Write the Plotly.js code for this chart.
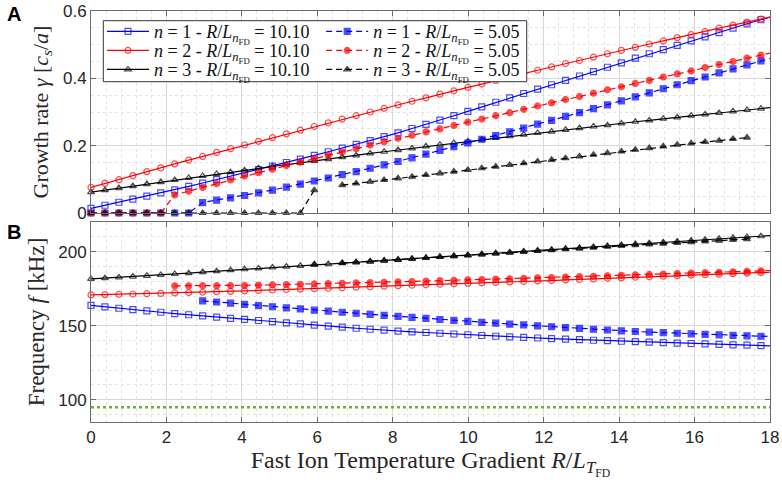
<!DOCTYPE html>
<html>
<head>
<meta charset="utf-8">
<script src="https://cdn.plot.ly/plotly-3.0.1.min.js"></script>
<style>html,body{margin:0;padding:0;background:#fff}#chart{width:782px;height:480px}</style>
</head>
<body>
<div id="chart"></div>
<script>
// fast ion temperature gradient R/L_T (marker positions, last point = end of line)
const rltf = [0, 0.37, 0.74, 1.11, 1.48, 1.85, 2.22, 2.59, 2.96, 3.33, 3.70, 4.07, 4.44, 4.81, 5.18,
  5.55, 5.92, 6.29, 6.66, 7.03, 7.40, 7.77, 8.14, 8.51, 8.88, 9.25, 9.62, 9.99, 10.36, 10.73, 11.10,
  11.47, 11.84, 12.21, 12.58, 12.95, 13.32, 13.69, 14.06, 14.43, 14.80, 15.17, 15.54, 15.91, 16.28,
  16.65, 17.02, 17.39, 17.76, 18];

// growth rate, R/L_n = 10.10
const gammaN1Ref = [0.014,0.023,0.032,0.041,0.050,0.060,0.069,0.079,0.089,0.099,0.109,0.119,0.129,0.139,0.150,
  0.160,0.171,0.182,0.193,0.204,0.215,0.227,0.238,0.251,0.263,0.276,0.289,0.302,0.315,0.329,0.342,
  0.355,0.368,0.381,0.394,0.407,0.420,0.433,0.446,0.460,0.473,0.485,0.498,0.511,0.523,0.536,0.549,
  0.562,0.574,0.582];
const gammaN2Ref = [0.076,0.088,0.099,0.111,0.123,0.134,0.146,0.157,0.168,0.180,0.191,0.202,0.213,0.224,0.235,
  0.246,0.257,0.268,0.279,0.289,0.300,0.311,0.321,0.332,0.342,0.353,0.363,0.373,0.383,0.394,0.404,
  0.414,0.424,0.434,0.444,0.453,0.463,0.473,0.483,0.492,0.502,0.511,0.521,0.530,0.539,0.549,0.558,
  0.567,0.576,0.582];
const gammaN3Ref = [0.062,0.068,0.074,0.080,0.086,0.092,0.098,0.104,0.110,0.116,0.121,0.127,0.133,0.138,0.144,
  0.149,0.155,0.160,0.166,0.171,0.177,0.182,0.187,0.192,0.198,0.203,0.208,0.213,0.218,0.223,0.228,
  0.233,0.238,0.242,0.247,0.252,0.257,0.261,0.266,0.271,0.275,0.280,0.284,0.289,0.293,0.297,0.302,
  0.306,0.310,0.313];

// growth rate, R/L_n = 5.05
const gammaN1Half = [0,0,0,0,0,0,0,0,0.031,0.038,0.045,0.052,0.060,0.068,0.077,
  0.086,0.095,0.104,0.114,0.123,0.133,0.143,0.153,0.164,0.175,0.186,0.197,0.208,0.219,0.230,0.241,
  0.252,0.264,0.275,0.287,0.298,0.310,0.321,0.333,0.345,0.357,0.369,0.381,0.393,0.404,0.416,0.428,
  0.440,0.452,0.459];
const gammaN2Half = [0,0,0,0,0,0,0.054,0.065,0.076,0.087,0.098,0.110,0.120,0.130,0.141,
  0.151,0.161,0.171,0.181,0.191,0.202,0.212,0.222,0.231,0.241,0.250,0.260,0.270,0.279,0.289,0.298,
  0.308,0.318,0.327,0.337,0.346,0.356,0.366,0.375,0.385,0.394,0.404,0.413,0.422,0.432,0.441,0.450,
  0.460,0.469,0.475];
const gammaN3Half = [0,0,0,0,0,0,0,0,0,0,0,0,0,0,0,
  0,0.068,null,0.083,0.088,0.093,0.098,0.103,0.108,0.113,0.118,0.123,0.128,0.133,0.138,0.143,
  0.148,0.153,0.158,0.163,0.168,0.173,0.178,0.183,0.188,0.193,0.198,0.203,0.207,0.211,0.215,0.220,
  0.224,null,null];

// frequency [kHz], R/L_n = 10.10
const freqN1Ref = [163.7,162.7,161.8,160.9,160.0,159.1,158.2,157.4,156.6,155.8,155.0,154.3,153.5,152.7,151.9,
  151.2,150.4,149.7,149.0,148.3,147.6,147.0,146.4,145.9,145.4,144.9,144.4,143.9,143.4,142.9,142.5,
  142.1,141.7,141.3,140.9,140.6,140.2,139.9,139.5,139.2,138.9,138.6,138.3,138.0,137.7,137.4,137.1,
  136.9,136.6,136.4];
const freqN2Ref = [170.8,171.0,171.2,171.4,171.6,171.8,172.1,172.4,172.6,172.9,173.2,173.5,173.8,174.1,174.4,
  174.7,175.0,175.3,175.6,176.0,176.3,176.7,177.0,177.3,177.6,178.0,178.3,178.6,178.9,179.2,179.6,
  179.9,180.2,180.5,180.9,181.2,181.6,182.0,182.3,182.7,183.0,183.4,183.7,184.1,184.4,184.8,185.1,
  185.5,185.8,186.1];
const freqN3Ref = [181.6,182.1,182.6,183.2,183.7,184.3,184.9,185.5,186.2,186.8,187.5,188.1,188.7,189.3,189.9,
  190.4,191.0,191.6,192.2,192.7,193.3,193.9,194.5,195.1,195.7,196.4,197.0,197.6,198.2,198.9,199.5,
  200.1,200.7,201.3,202.0,202.6,203.2,203.8,204.5,205.1,205.7,206.3,206.9,207.5,208.1,208.7,209.3,
  209.9,210.4,210.8];

// frequency [kHz], R/L_n = 5.05 (null where the mode is stable)
const freqN1Half = [null,null,null,null,null,null,null,null,166.8,166.0,165.2,164.4,163.6,162.8,162.0,
  161.3,160.5,159.8,159.1,158.4,157.7,157.0,156.3,155.6,154.9,154.2,153.6,152.9,152.3,151.7,151.1,
  150.5,149.9,149.3,148.7,148.2,147.6,147.1,146.5,146.1,145.7,145.3,144.9,144.5,144.2,143.8,143.5,
  143.2,142.9,142.7];
const freqN2Half = [null,null,null,null,null,null,176.9,176.9,177.0,177.0,177.1,177.2,177.4,177.6,177.8,
  178.0,178.2,178.4,178.6,178.9,179.1,179.3,179.6,179.8,180.1,180.4,180.7,181.0,181.2,181.5,181.7,
  182.0,182.3,182.5,182.8,183.1,183.4,183.7,184.0,184.3,184.6,184.9,185.2,185.5,185.8,186.1,186.4,
  186.7,187.0,187.2];
const freqN3Half = [null,null,null,null,null,null,null,null,null,null,null,null,null,null,null,
  null,191.5,null,192.4,192.9,193.4,194.0,194.6,195.2,195.8,196.4,197.0,197.5,198.1,198.7,199.3,
  199.9,200.5,201.0,201.6,202.1,202.7,203.3,203.9,204.4,204.9,205.4,205.9,206.4,206.9,207.4,207.9,
  208.4,null,null];

// reference frequency line
const refLineX = [0, 18];
const refLineF = [95, 95];

const legendNames = [
  '<i>n</i> = 1 - <i>R</i>/<i>L</i><sub><i>n</i><sub>FD</sub></sub> = 10.10',
  '<i>n</i> = 2 - <i>R</i>/<i>L</i><sub><i>n</i><sub>FD</sub></sub> = 10.10',
  '<i>n</i> = 3 - <i>R</i>/<i>L</i><sub><i>n</i><sub>FD</sub></sub> = 10.10',
  '<i>n</i> = 1 - <i>R</i>/<i>L</i><sub><i>n</i><sub>FD</sub></sub> = 5.05',
  '<i>n</i> = 2 - <i>R</i>/<i>L</i><sub><i>n</i><sub>FD</sub></sub> = 5.05',
  '<i>n</i> = 3 - <i>R</i>/<i>L</i><sub><i>n</i><sub>FD</sub></sub> = 5.05'
];

const BLUE = '#0000ff', RED = '#ff0000', BLACK = '#000000';
const mSize = rltf.map((x, i) => i === rltf.length - 1 ? 0 : 6);

function series(y, color, symbol, dashed, top, name, legend) {
  return {
    x: rltf, y: y,
    xaxis: top ? 'x2' : 'x',
    yaxis: top ? 'y2' : 'y',
    mode: 'lines+markers',
    name: name || '',
    legend: legend,
    showlegend: !!name,
    cliponaxis: false,
    hoverinfo: 'skip',
    line: {color: color, width: 1.2, dash: dashed ? '6px,4px' : 'solid'},
    marker: {symbol: symbol, size: mSize, color: color, line: {color: color, width: 1.2}}
  };
}

const data = [
  series(gammaN1Ref, BLUE, 'square-open', false, true, legendNames[0], 'legend'),
  series(gammaN2Ref, RED, 'circle-open', false, true, legendNames[1], 'legend2'),
  series(gammaN3Ref, BLACK, 'triangle-up-open', false, true, legendNames[2], 'legend3'),
  series(gammaN1Half, BLUE, 'square', true, true, legendNames[3], 'legend4'),
  series(gammaN2Half, RED, 'circle', true, true, legendNames[4], 'legend5'),
  series(gammaN3Half, BLACK, 'triangle-up', true, true, legendNames[5], 'legend6'),
  series(freqN1Ref, BLUE, 'square-open', false, false),
  series(freqN2Ref, RED, 'circle-open', false, false),
  series(freqN3Ref, BLACK, 'triangle-up-open', false, false),
  series(freqN1Half, BLUE, 'square', true, false),
  series(freqN2Half, RED, 'circle', true, false),
  series(freqN3Half, BLACK, 'triangle-up', true, false),
  {
    x: refLineX, y: refLineF, xaxis: 'x', yaxis: 'y', mode: 'lines', showlegend: false,
    hoverinfo: 'skip', line: {color: '#77ac30', width: 2.5, dash: 'dot'}
  }
];

const tickFont = {family: 'Liberation Sans, Arial, sans-serif', size: 17, color: '#262626'};
const titleFont = {family: 'Liberation Serif, Times New Roman, serif', size: 22, color: '#262626'};
const minorGrid = {showgrid: true, gridcolor: '#e3e3e3', griddash: 'dot', gridwidth: 1, ticks: ''};

const baseAxis = {
  showline: true, linecolor: '#6b6b6b', linewidth: 1, mirror: 'ticks',
  ticks: 'inside', ticklen: 5, tickwidth: 1, tickcolor: '#6b6b6b',
  gridcolor: '#d9d9d9', gridwidth: 1, zeroline: false, tickfont: tickFont
};

// one legend per entry so the 2 x 3 grid can be placed row by row
function legendAt(x, y) {
  return {
    x: x, y: y, xanchor: 'left', yanchor: 'middle', orientation: 'v',
    bgcolor: 'rgba(0,0,0,0)', borderwidth: 0, itemwidth: 42,
    font: {family: 'Liberation Serif, Times New Roman, serif', size: 18, color: '#111'}
  };
}
const colX = [0.0162, 0.339];
const rowY = [0.9496, 0.9034, 0.8572];

const layout = {
  width: 782, height: 480,
  margin: {l: 91, r: 12, t: 11, b: 58, pad: 0},
  paper_bgcolor: '#fff', plot_bgcolor: '#fff',
  xaxis: Object.assign({}, baseAxis, {
    anchor: 'y', range: [0, 18], tick0: 0, dtick: 2,
    minor: Object.assign({dtick: 0.4}, minorGrid),
    title: {text: 'Fast Ion Temperature Gradient <i>R</i>/<i>L</i><sub><i>T</i><sub>FD</sub></sub>',
      font: Object.assign({}, titleFont, {size: 24}), standoff: 5}
  }),
  xaxis2: Object.assign({}, baseAxis, {
    anchor: 'y2', matches: 'x', range: [0, 18], tick0: 0, dtick: 2, showticklabels: false,
    minor: Object.assign({dtick: 0.4}, minorGrid)
  }),
  yaxis: Object.assign({}, baseAxis, {
    anchor: 'x', domain: [0, 0.4866], range: [85, 220], tick0: 0, dtick: 50,
    minor: Object.assign({dtick: 10}, minorGrid),
    title: {text: 'Frequency <i>f</i> [kHz]', font: Object.assign({}, titleFont, {size: 23}), standoff: 7}
  }),
  yaxis2: Object.assign({}, baseAxis, {
    anchor: 'x2', domain: [0.5085, 1], range: [0, 0.6], tick0: 0, dtick: 0.2,
    minor: Object.assign({dtick: 0.05}, minorGrid),
    title: {text: 'Growth rate <i>γ</i> [<i>c<sub>s</sub></i>/<i>a</i>]', font: titleFont, standoff: 8}
  }),
  legend: legendAt(colX[0], rowY[0]),
  legend2: legendAt(colX[0], rowY[1]),
  legend3: legendAt(colX[0], rowY[2]),
  legend4: legendAt(colX[1], rowY[0]),
  legend5: legendAt(colX[1], rowY[1]),
  legend6: legendAt(colX[1], rowY[2]),
  shapes: [{
    type: 'rect', xref: 'paper', yref: 'paper', layer: 'above',
    x0: 0.0181, x1: 0.6417, y0: 0.828, y1: 0.9764,
    fillcolor: '#fff', line: {color: '#333', width: 1}
  }],
  annotations: [
    {text: '<b>A</b>', xref: 'paper', yref: 'paper', x: -0.113, y: 0.993, showarrow: false,
      xanchor: 'center', yanchor: 'middle', font: {family: 'Liberation Sans, Arial, sans-serif', size: 20, color: '#000'}},
    {text: '<b>B</b>', xref: 'paper', yref: 'paper', x: -0.113, y: 0.462, showarrow: false,
      xanchor: 'center', yanchor: 'middle', font: {family: 'Liberation Sans, Arial, sans-serif', size: 20, color: '#000'}}
  ]
};

Plotly.newPlot('chart', data, layout, {displayModeBar: false, staticPlot: true});
</script>
</body>
</html>
